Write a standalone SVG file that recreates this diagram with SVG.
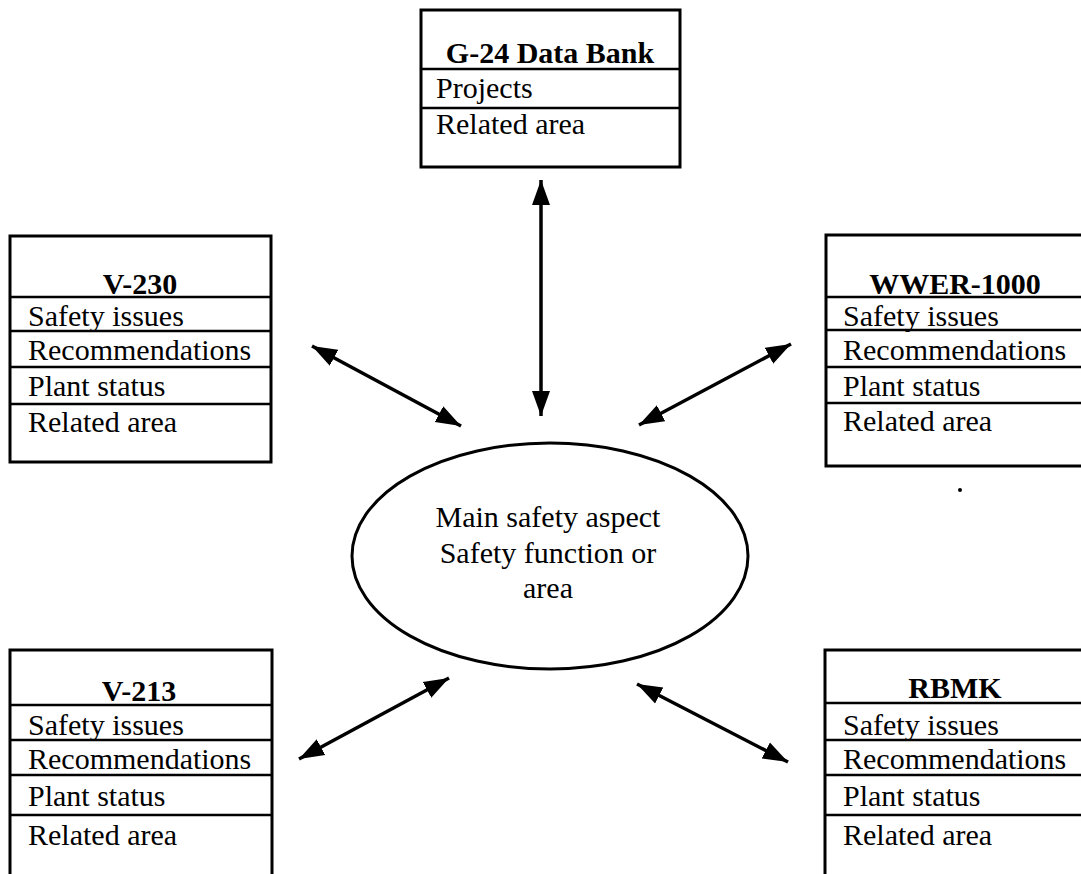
<svg xmlns="http://www.w3.org/2000/svg" width="1081" height="874" viewBox="0 0 1081 874">
<style>
.box{fill:#fff;stroke:#000;stroke-width:3}
.div{stroke:#000;stroke-width:2.5}
.t{font-family:"Liberation Serif","Times New Roman",serif;font-size:30px;fill:#000}
.h{font-family:"Liberation Serif","Times New Roman",serif;font-size:30px;font-weight:bold;fill:#000;text-anchor:middle}
.c{font-family:"Liberation Serif","Times New Roman",serif;font-size:30px;fill:#000;text-anchor:middle}
.arr{stroke:#000;stroke-width:3.5;fill:none;marker-start:url(#ah);marker-end:url(#ah)}
</style>
<defs>
<marker id="ah" markerUnits="userSpaceOnUse" markerWidth="26" markerHeight="20" refX="25" refY="9" orient="auto-start-reverse" viewBox="0 0 26 18">
<path d="M0,0 L25,9 L0,18 z" fill="#000"/>
</marker>
</defs>
<rect width="1081" height="874" fill="#fff"/>

<g id="connectors">
<line class="arr" x1="541" y1="180" x2="541" y2="416"/>
<line class="arr" x1="312" y1="346" x2="461" y2="426"/>
<line class="arr" x1="791" y1="344" x2="639" y2="425"/>
<line class="arr" x1="449" y1="678" x2="299" y2="759"/>
<line class="arr" x1="637" y1="684" x2="788" y2="762"/>
</g>

<g id="g24">
<rect class="box" x="421" y="10" width="259" height="157"/>
<line class="div" x1="421" y1="69" x2="680" y2="69"/>
<line class="div" x1="421" y1="108" x2="680" y2="108"/>
<text class="h" x="550" y="63">G-24 Data Bank</text>
<text class="t" x="436" y="98">Projects</text>
<text class="t" x="436" y="134">Related area</text>
</g>

<g id="v230">
<rect class="box" x="10" y="236" width="261" height="226"/>
<line class="div" x1="10" y1="297" x2="271" y2="297"/>
<line class="div" x1="10" y1="331" x2="271" y2="331"/>
<line class="div" x1="10" y1="367" x2="271" y2="367"/>
<line class="div" x1="10" y1="404" x2="271" y2="404"/>
<text class="h" x="140" y="294">V-230</text>
<text class="t" x="28" y="326">Safety issues</text>
<text class="t" x="28" y="360">Recommendations</text>
<text class="t" x="28" y="396">Plant status</text>
<text class="t" x="28" y="432">Related area</text>
</g>

<g id="wwer1000">
<rect class="box" x="826" y="235" width="262" height="231"/>
<line class="div" x1="826" y1="297" x2="1088" y2="297"/>
<line class="div" x1="826" y1="330" x2="1088" y2="330"/>
<line class="div" x1="826" y1="367" x2="1088" y2="367"/>
<line class="div" x1="826" y1="403" x2="1088" y2="403"/>
<text class="h" x="955" y="294">WWER-1000</text>
<text class="t" x="843" y="326">Safety issues</text>
<text class="t" x="843" y="360">Recommendations</text>
<text class="t" x="843" y="396">Plant status</text>
<text class="t" x="843" y="431">Related area</text>
</g>

<g id="main">
<ellipse cx="550" cy="556" rx="198" ry="113" fill="#fff" stroke="#000" stroke-width="3"/>
<text class="c" x="548" y="527">Main safety aspect</text>
<text class="c" x="548" y="563">Safety function or</text>
<text class="c" x="548" y="598">area</text>
</g>

<circle cx="960" cy="490" r="2" fill="#000"/>

<g id="v213">
<rect class="box" x="10" y="650" width="262" height="240"/>
<line class="div" x1="10" y1="705" x2="272" y2="705"/>
<line class="div" x1="10" y1="740" x2="272" y2="740"/>
<line class="div" x1="10" y1="775" x2="272" y2="775"/>
<line class="div" x1="10" y1="815" x2="272" y2="815"/>
<text class="h" x="139" y="701">V-213</text>
<text class="t" x="28" y="735">Safety issues</text>
<text class="t" x="28" y="769">Recommendations</text>
<text class="t" x="28" y="806">Plant status</text>
<text class="t" x="28" y="845">Related area</text>
</g>

<g id="rbmk">
<rect class="box" x="825" y="650" width="263" height="240"/>
<line class="div" x1="825" y1="703" x2="1088" y2="703"/>
<line class="div" x1="825" y1="740" x2="1088" y2="740"/>
<line class="div" x1="825" y1="775" x2="1088" y2="775"/>
<line class="div" x1="825" y1="815" x2="1088" y2="815"/>
<text class="h" x="955" y="698">RBMK</text>
<text class="t" x="843" y="735">Safety issues</text>
<text class="t" x="843" y="769">Recommendations</text>
<text class="t" x="843" y="806">Plant status</text>
<text class="t" x="843" y="845">Related area</text>
</g>
</svg>
